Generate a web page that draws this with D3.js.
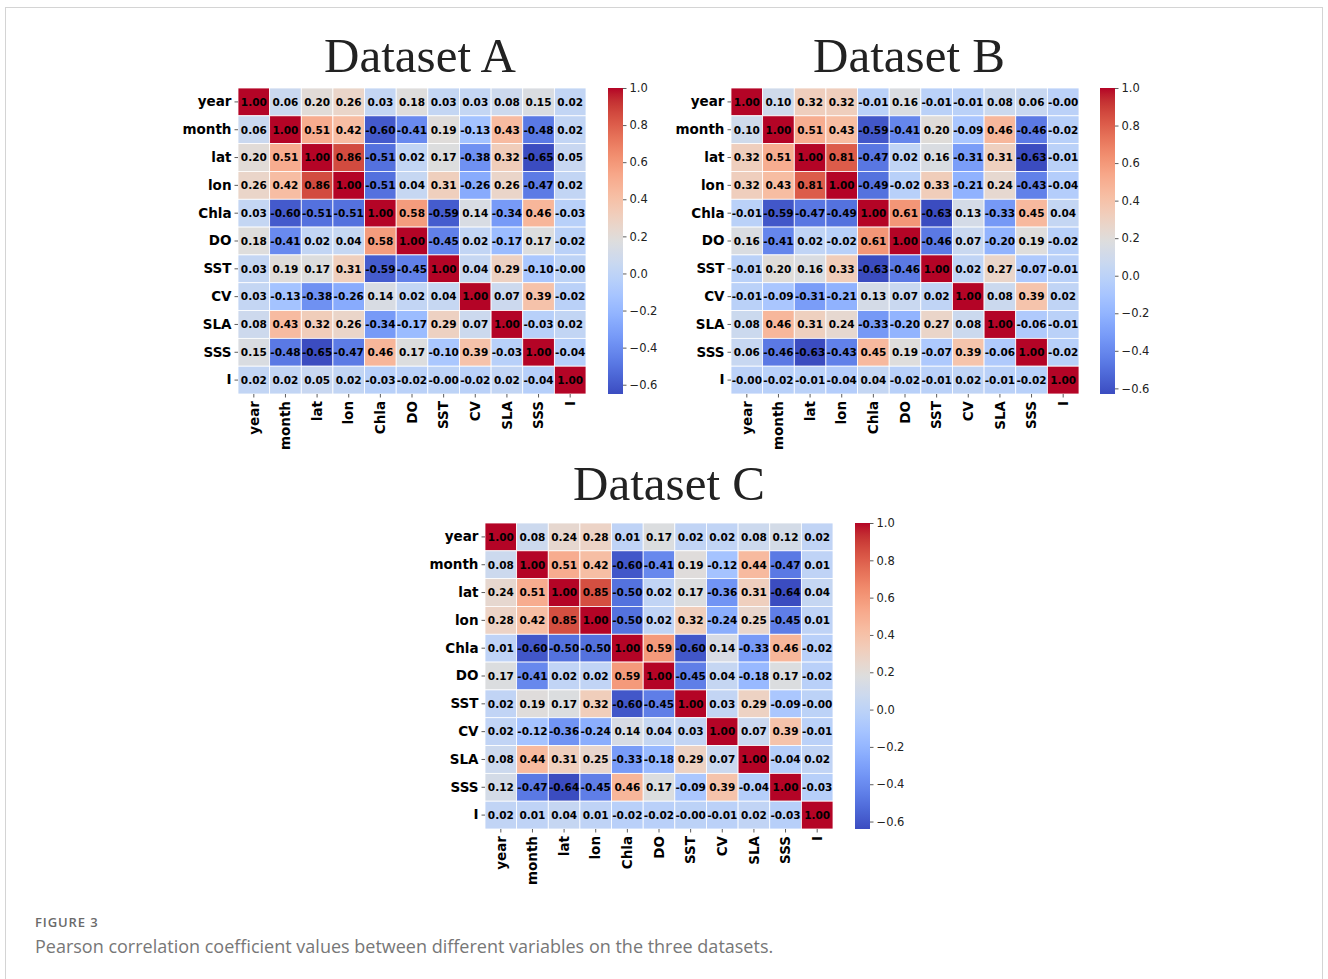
<html>
  <head>
    <meta charset="utf-8">
    <title>Pearson correlation heatmaps</title>
    <script src="https://cdn.jsdelivr.net/npm/d3@7"></script>
    <style>
      body { margin: 0; background: #fff; }
      svg { display: block; }
    </style>
  </head>
  <body>
    <svg></svg>
    <script>
      'use strict';

      // variable names, same order for rows and columns
      const variables = ['year', 'month', 'lat', 'lon', 'Chla', 'DO', 'SST', 'CV', 'SLA', 'SSS', 'I'];

      // -0.004 stands for the "-0.00" printed in the cells
      const dataA = [
        [1.00, 0.06, 0.20, 0.26, 0.03, 0.18, 0.03, 0.03, 0.08, 0.15, 0.02],
        [0.06, 1.00, 0.51, 0.42, -0.60, -0.41, 0.19, -0.13, 0.43, -0.48, 0.02],
        [0.20, 0.51, 1.00, 0.86, -0.51, 0.02, 0.17, -0.38, 0.32, -0.65, 0.05],
        [0.26, 0.42, 0.86, 1.00, -0.51, 0.04, 0.31, -0.26, 0.26, -0.47, 0.02],
        [0.03, -0.60, -0.51, -0.51, 1.00, 0.58, -0.59, 0.14, -0.34, 0.46, -0.03],
        [0.18, -0.41, 0.02, 0.04, 0.58, 1.00, -0.45, 0.02, -0.17, 0.17, -0.02],
        [0.03, 0.19, 0.17, 0.31, -0.59, -0.45, 1.00, 0.04, 0.29, -0.10, -0.004],
        [0.03, -0.13, -0.38, -0.26, 0.14, 0.02, 0.04, 1.00, 0.07, 0.39, -0.02],
        [0.08, 0.43, 0.32, 0.26, -0.34, -0.17, 0.29, 0.07, 1.00, -0.03, 0.02],
        [0.15, -0.48, -0.65, -0.47, 0.46, 0.17, -0.10, 0.39, -0.03, 1.00, -0.04],
        [0.02, 0.02, 0.05, 0.02, -0.03, -0.02, -0.004, -0.02, 0.02, -0.04, 1.00]
      ];

      const dataB = [
        [1.00, 0.10, 0.32, 0.32, -0.01, 0.16, -0.01, -0.01, 0.08, 0.06, -0.004],
        [0.10, 1.00, 0.51, 0.43, -0.59, -0.41, 0.20, -0.09, 0.46, -0.46, -0.02],
        [0.32, 0.51, 1.00, 0.81, -0.47, 0.02, 0.16, -0.31, 0.31, -0.63, -0.01],
        [0.32, 0.43, 0.81, 1.00, -0.49, -0.02, 0.33, -0.21, 0.24, -0.43, -0.04],
        [-0.01, -0.59, -0.47, -0.49, 1.00, 0.61, -0.63, 0.13, -0.33, 0.45, 0.04],
        [0.16, -0.41, 0.02, -0.02, 0.61, 1.00, -0.46, 0.07, -0.20, 0.19, -0.02],
        [-0.01, 0.20, 0.16, 0.33, -0.63, -0.46, 1.00, 0.02, 0.27, -0.07, -0.01],
        [-0.01, -0.09, -0.31, -0.21, 0.13, 0.07, 0.02, 1.00, 0.08, 0.39, 0.02],
        [0.08, 0.46, 0.31, 0.24, -0.33, -0.20, 0.27, 0.08, 1.00, -0.06, -0.01],
        [0.06, -0.46, -0.63, -0.43, 0.45, 0.19, -0.07, 0.39, -0.06, 1.00, -0.02],
        [-0.004, -0.02, -0.01, -0.04, 0.04, -0.02, -0.01, 0.02, -0.01, -0.02, 1.00]
      ];

      const dataC = [
        [1.00, 0.08, 0.24, 0.28, 0.01, 0.17, 0.02, 0.02, 0.08, 0.12, 0.02],
        [0.08, 1.00, 0.51, 0.42, -0.60, -0.41, 0.19, -0.12, 0.44, -0.47, 0.01],
        [0.24, 0.51, 1.00, 0.85, -0.50, 0.02, 0.17, -0.36, 0.31, -0.64, 0.04],
        [0.28, 0.42, 0.85, 1.00, -0.50, 0.02, 0.32, -0.24, 0.25, -0.45, 0.01],
        [0.01, -0.60, -0.50, -0.50, 1.00, 0.59, -0.60, 0.14, -0.33, 0.46, -0.02],
        [0.17, -0.41, 0.02, 0.02, 0.59, 1.00, -0.45, 0.04, -0.18, 0.17, -0.02],
        [0.02, 0.19, 0.17, 0.32, -0.60, -0.45, 1.00, 0.03, 0.29, -0.09, -0.004],
        [0.02, -0.12, -0.36, -0.24, 0.14, 0.04, 0.03, 1.00, 0.07, 0.39, -0.01],
        [0.08, 0.44, 0.31, 0.25, -0.33, -0.18, 0.29, 0.07, 1.00, -0.04, 0.02],
        [0.12, -0.47, -0.64, -0.45, 0.46, 0.17, -0.09, 0.39, -0.04, 1.00, -0.03],
        [0.02, 0.01, 0.04, 0.01, -0.02, -0.02, -0.004, -0.01, 0.02, -0.03, 1.00]
      ];

      const colorbarTicks = [-0.6, -0.4, -0.2, 0.0, 0.2, 0.4, 0.6, 0.8, 1.0];

      // matplotlib "coolwarm" (Moreland) control colours
      const coolwarm = [
        [59, 76, 192], [68, 90, 204], [77, 104, 215], [87, 117, 225], [98, 130, 234],
        [108, 142, 241], [119, 154, 247], [130, 165, 251], [141, 176, 254], [152, 185, 255],
        [163, 194, 255], [174, 201, 253], [184, 208, 249], [194, 213, 244], [204, 217, 238],
        [213, 219, 230], [221, 221, 221], [229, 216, 209], [236, 211, 197], [241, 204, 184],
        [245, 196, 172], [247, 187, 160], [247, 177, 148], [247, 166, 137], [244, 154, 123],
        [241, 141, 111], [236, 127, 99], [229, 112, 88], [222, 96, 77], [213, 80, 66],
        [203, 62, 56], [192, 40, 47], [180, 4, 38]
      ];

      const W = 1328, H = 979;
      const svg = d3.select('svg').attr('width', W).attr('height', H);

      // card outline
      svg.append('rect')
        .attr('x', 5.5).attr('y', 7.5)
        .attr('width', 1317).attr('height', 1000)
        .attr('fill', '#fff')
        .attr('stroke', '#d4d4d4');

      function drawHeatmap(data, title, left, top, titleX, titleY, cbX) {
        const gw = 348, gh = 306;
        const vmin = d3.min(data.flat()), vmax = d3.max(data.flat());

        // colour scale spread over the data range, like seaborn does without a center
        const t = d3.scaleLinear()
          .domain(coolwarm.map((c, i) => vmin + (vmax - vmin) * i / (coolwarm.length - 1)))
          .range(coolwarm.map(c => d3.rgb(c[0], c[1], c[2])))
          .interpolate(d3.interpolateRgb)
          .clamp(true);

        const x = d3.scaleBand().domain(variables).range([left, left + gw]);
        const y = d3.scaleBand().domain(variables).range([top, top + gh]);

        svg.append('text')
          .attr('x', titleX).attr('y', titleY)
          .attr('text-anchor', 'middle')
          .style('font-family', '"Liberation Serif", "DejaVu Serif", serif')
          .style('font-size', '49px')
          .attr('fill', '#222')
          .text(title);

        const g = svg.append('g');
        const cells = [];
        data.forEach((row, i) => row.forEach((v, j) => cells.push({ r: variables[i], c: variables[j], v: v })));

        g.selectAll('rect')
          .data(cells)
          .enter()
          .append('rect')
          .attr('x', d => x(d.c))
          .attr('y', d => y(d.r))
          .attr('width', x.bandwidth())
          .attr('height', y.bandwidth())
          .attr('fill', d => t(d.v))
          .attr('stroke', '#fff')
          .attr('stroke-width', 0.8);

        g.selectAll('text')
          .data(cells)
          .enter()
          .append('text')
          .attr('x', d => x(d.c) + x.bandwidth() / 2)
          .attr('y', d => y(d.r) + y.bandwidth() / 2)
          .attr('text-anchor', 'middle')
          .attr('dy', '0.36em')
          .style('font-family', '"DejaVu Sans", sans-serif')
          .style('font-weight', 'bold')
          .style('font-size', '10.5px')
          .attr('fill', '#000')
          .text(d => d.v.toFixed(2));

        // y axis labels
        const ya = svg.append('g')
          .attr('transform', `translate(${left},0)`)
          .call(d3.axisLeft(y).tickSize(3.5).tickPadding(3));
        ya.select('.domain').remove();
        ya.selectAll('text')
          .style('font-family', '"DejaVu Sans", sans-serif')
          .style('font-weight', 'bold')
          .style('font-size', '13.5px')
          .attr('fill', '#000');
        ya.selectAll('line').attr('stroke', '#333').attr('stroke-width', 0.8);

        // x axis labels, rotated
        const xa = svg.append('g')
          .attr('transform', `translate(0,${top + gh})`)
          .call(d3.axisBottom(x).tickSize(3.5).tickPadding(3));
        xa.select('.domain').remove();
        xa.selectAll('text')
          .style('font-family', '"DejaVu Sans", sans-serif')
          .style('font-weight', 'bold')
          .style('font-size', '13.5px')
          .attr('fill', '#000')
          .attr('text-anchor', 'end')
          .attr('transform', 'rotate(-90)')
          .attr('x', -7)
          .attr('y', 0)
          .attr('dy', '0.35em');
        xa.selectAll('line').attr('stroke', '#333').attr('stroke-width', 0.8);

        // colorbar
        const cbW = 15;
        const cy = d3.scaleLinear().domain([vmin, vmax]).range([top + gh, top]);
        const gradId = 'grad' + title.replace(/\s/g, '');
        const grad = svg.append('defs').append('linearGradient')
          .attr('id', gradId)
          .attr('x1', 0).attr('y1', 1).attr('x2', 0).attr('y2', 0);
        d3.range(0, 1.0001, 0.02).forEach(f => {
          grad.append('stop')
            .attr('offset', f)
            .attr('stop-color', t(vmin + f * (vmax - vmin)));
        });
        svg.append('rect')
          .attr('x', cbX).attr('y', top)
          .attr('width', cbW).attr('height', gh)
          .attr('fill', `url(#${gradId})`);

        const ca = svg.append('g')
          .attr('transform', `translate(${cbX + cbW},0)`)
          .call(d3.axisRight(cy).tickValues(colorbarTicks).tickFormat(d3.format('.1f')).tickSize(3.5).tickPadding(3));
        ca.select('.domain').remove();
        ca.selectAll('text')
          .style('font-family', '"DejaVu Sans", sans-serif')
          .style('font-size', '11.5px')
          .attr('fill', '#222');
        ca.selectAll('line').attr('stroke', '#333').attr('stroke-width', 0.8);
      }

      drawHeatmap(dataA, 'Dataset A', 238, 88, 420, 72, 608);
      drawHeatmap(dataB, 'Dataset B', 731, 88, 909, 72, 1100);
      drawHeatmap(dataC, 'Dataset C', 485, 523, 669, 500, 855);

      // caption
      svg.append('text')
        .attr('x', 35).attr('y', 927)
        .style('font-family', '"Open Sans", sans-serif')
        .style('font-size', '13px')
        .style('font-weight', 600)
        .style('letter-spacing', '0.9px')
        .attr('fill', '#6a6a6a')
        .text('FIGURE 3');
      svg.append('text')
        .attr('x', 35).attr('y', 953)
        .style('font-family', '"Open Sans", sans-serif')
        .style('font-size', '18px')
        .attr('fill', '#777')
        .text('Pearson correlation coefficient values between different variables on the three datasets.');
    </script>
  </body>
</html>
